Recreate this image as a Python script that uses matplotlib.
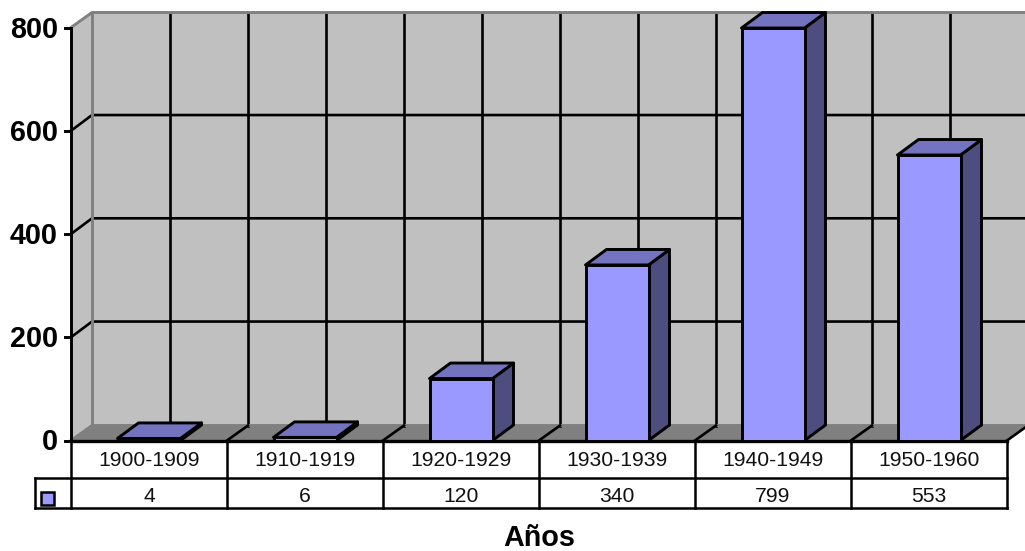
"""Excel-style 3D column chart with a data table underneath."""

import matplotlib

matplotlib.use("Agg")
import matplotlib.pyplot as plt
from matplotlib.patches import Polygon, Rectangle

CATEGORIES = ["1900-1909", "1910-1919", "1920-1929", "1930-1939", "1940-1949", "1950-1960"]
VALUES = [4, 6, 120, 340, 799, 553]
Y_TICKS = [0, 200, 400, 600, 800]
X_LABEL = "Años"

WALL = "#C0C0C0"
FLOOR = "#808080"
FRONT = "#9999FF"
TOP = "#7373BF"
SIDE = "#4D4D80"
LW = 2.1

W, H = 1025, 551
LEFT, RIGHT, BASE, TOP_Y = 71, 1007, 440.5, 27.5
DX, DY = 21, 15
CAT_W = (RIGHT - LEFT) / len(CATEGORIES)
BAR_W = 63 / CAT_W

plt.rcParams["font.family"] = ["Liberation Sans", "DejaVu Sans"]

fig = plt.figure(figsize=(W / 100, H / 100), dpi=100, facecolor="white")

# pixel axes for walls, floor, grid and the table
bg = fig.add_axes([0, 0, 1, 1])
bg.set_xlim(0, W)
bg.set_ylim(H, 0)
bg.axis("off")


def val_y(v):
    return BASE - v * (BASE - TOP_Y) / max(Y_TICKS)


# walls and floor
bg.add_patch(Polygon([(LEFT + DX, BASE - DY), (RIGHT + DX, BASE - DY), (RIGHT + DX, TOP_Y - DY), (LEFT + DX, TOP_Y - DY)],
                     fc=WALL, ec="none"))
bg.add_patch(Polygon([(LEFT, BASE), (LEFT + DX, BASE - DY), (LEFT + DX, TOP_Y - DY), (LEFT, TOP_Y)], fc=WALL, ec="none"))
bg.add_patch(Polygon([(LEFT, BASE), (RIGHT, BASE), (RIGHT + DX, BASE - DY), (LEFT + DX, BASE - DY)], fc=FLOOR, ec="none"))

# grid on the back and side walls
for v in Y_TICKS[1:-1]:
    y = val_y(v)
    bg.plot([LEFT, LEFT + DX, W], [y, y - DY - 0.7, y - DY - 0.7], color="black", lw=LW - 0.2)
for k in range(1, 2 * len(CATEGORIES)):
    x = LEFT + DX + k * CAT_W / 2
    bg.plot([x, x], [TOP_Y - DY, BASE - DY], color="black", lw=LW - 0.2, zorder=2)

# wall outlines
bg.plot([LEFT, LEFT + DX, W], [TOP_Y, TOP_Y - DY, TOP_Y - DY], color=FLOOR, lw=LW)
bg.plot([LEFT + DX, LEFT + DX], [TOP_Y - DY, BASE - DY], color=FLOOR, lw=LW)
bg.plot([LEFT, LEFT + DX, W], [BASE, BASE - DY, BASE - DY], color=FLOOR, lw=LW)

# floor dividers
for k in range(1, len(CATEGORIES) + 1):
    x = LEFT + k * CAT_W
    bg.plot([x, x + DX], [BASE, BASE - DY], color="black", lw=LW - 0.2, zorder=2)

# value axis line and ticks
bg.plot([LEFT, LEFT], [TOP_Y, BASE], color="black", lw=LW)
for v in Y_TICKS:
    y = val_y(v)
    bg.plot([LEFT - 6, LEFT], [y, y], color="black", lw=LW)
    bg.text(LEFT - 13, y + 2, str(v), ha="right", va="center", fontsize=20.7, fontweight="bold")

# data table
ROW1, ROW2, LEG_X = 478, 507.5, 35
TABLE_LW = 1.8
for k in range(len(CATEGORIES) + 1):
    x = LEFT + k * CAT_W
    bg.plot([x, x], [BASE, ROW2], color="black", lw=TABLE_LW, zorder=4)
bg.plot([LEFT, RIGHT], [BASE, BASE], color="black", lw=LW + 0.3, zorder=4)
bg.plot([LEG_X, RIGHT], [ROW1, ROW1], color="black", lw=TABLE_LW, zorder=4)
bg.plot([LEG_X, RIGHT], [ROW2, ROW2], color="black", lw=TABLE_LW, zorder=4)
bg.plot([LEG_X, LEG_X], [ROW1, ROW2], color="black", lw=TABLE_LW, zorder=4)
for k, (cat, val) in enumerate(zip(CATEGORIES, VALUES)):
    xc = LEFT + (k + 0.5) * CAT_W
    bg.text(xc, 460.5, cat, ha="center", va="center", fontsize=15.2, color="#111111")
    bg.text(xc, 497, str(val), ha="center", va="center", fontsize=15.2, color="#111111")
bg.add_patch(Rectangle((41, 492), 13, 13, fc=FRONT, ec="black", lw=TABLE_LW, zorder=5))

bg.text(539, 538, X_LABEL, ha="center", va="center", fontsize=20.7, fontweight="bold")

# value axes for the columns, same frame as the front plane
ax = fig.add_axes([LEFT / W, 1 - BASE / H, (RIGHT - LEFT) / W, (BASE - TOP_Y) / H])
ax.set_xlim(0, len(CATEGORIES))
ax.set_ylim(0, max(Y_TICKS))
ax.axis("off")
ax.patch.set_alpha(0)

dx = DX / CAT_W
dy = (DY + 0.5) * max(Y_TICKS) / (BASE - TOP_Y)
for k, val in enumerate(VALUES):
    x0 = k + 0.5 - BAR_W / 2
    x1 = x0 + BAR_W
    style = dict(ec="black", lw=LW, joinstyle="round", clip_on=False)
    ax.add_patch(Polygon([(x1, 0), (x1 + dx, dy), (x1 + dx, val + dy), (x1, val)], fc=SIDE, **style))
    ax.add_patch(Polygon([(x0, val), (x1, val), (x1 + dx, val + dy), (x0 + dx, val + dy)], fc=TOP, **style))
    ax.add_patch(Rectangle((x0, 0), BAR_W, val, fc=FRONT, **style))

fig.savefig("out.png", dpi=100)
